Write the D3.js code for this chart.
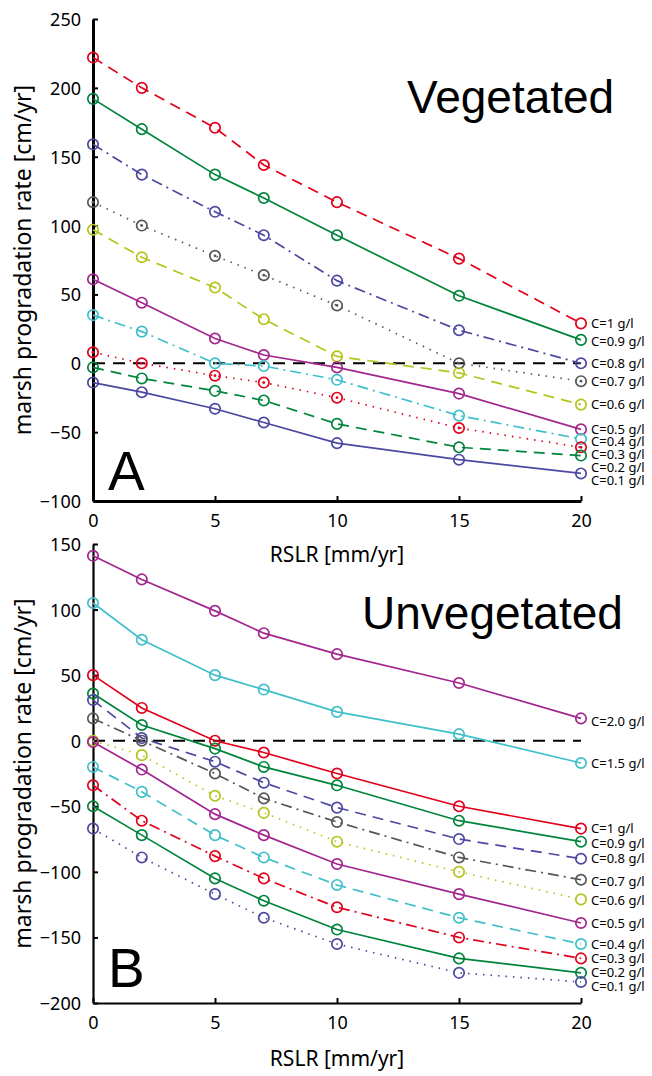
<!DOCTYPE html>
<html>
<head>
<meta charset="utf-8">
<script src="https://cdn.jsdelivr.net/npm/d3@7"></script>
<style>
  html, body { margin: 0; padding: 0; background: #fff; }
  svg { display: block; }
  .tick text { font-family: "Noto Sans", "Open Sans", sans-serif; font-size: 18px; fill: #000; }
</style>
</head>
<body>
<svg id="chart" width="652" height="1076"></svg>
<script>
// ---------- DATA ----------
const rslr = [0, 2, 5, 7, 10, 15, 20];
const xTicks = [0, 5, 10, 15, 20];
const yTicksVeg = [-100, -50, 0, 50, 100, 150, 200, 250];
const yTicksUnveg = [-200, -150, -100, -50, 0, 50, 100, 150];

// Vegetated (panel A)
const vegC10 = [222, 200, 171, 144, 117, 76, 29];
const vegC09 = [192, 170, 137, 120, 93, 49, 17];
const vegC08 = [159, 137, 110, 93, 60, 24, 0];
const vegC07 = [117, 100, 78, 64, 42, 0, -13];
const vegC06 = [97, 77, 55, 32, 5, -7, -30];
const vegC05 = [61, 44, 18, 6, -3, -22, -48];
const vegC04 = [35, 23, 0, -2, -12, -38, -55];
const vegC03 = [8, 0, -9, -14, -25, -47, -61];
const vegC02 = [-3, -11, -20, -27, -44, -61, -67];
const vegC01 = [-14, -21, -33, -43, -58, -70, -80];
const vegNames = ["C=1 g/l", "C=0.9 g/l", "C=0.8 g/l", "C=0.7 g/l", "C=0.6 g/l",
                  "C=0.5 g/l", "C=0.4 g/l", "C=0.3 g/l", "C=0.2 g/l", "C=0.1 g/l"];
const vegLabelAt = [29, 16, 0, -13, -30, -48, -57, -66, -76, -85];

// Unvegetated (panel B)
const unvC20 = [141, 123, 99, 82, 66, 44, 17];
const unvC15 = [105, 77, 50, 39, 22, 5, -17];
const unvC10 = [50, 25, 0, -9, -25, -50, -67];
const unvC09 = [36, 12, -6, -20, -34, -61, -77];
const unvC08 = [31, 2, -16, -32, -51, -75, -90];
const unvC07 = [17, 0, -25, -44, -62, -89, -106];
const unvC06 = [0, -11, -42, -55, -77, -100, -121];
const unvC05 = [-1, -22, -56, -72, -94, -117, -139];
const unvC04 = [-20, -39, -72, -89, -110, -135, -155];
const unvC03 = [-34, -61, -88, -105, -127, -150, -166];
const unvC02 = [-50, -72, -105, -122, -144, -166, -177];
const unvC01 = [-67, -89, -117, -135, -155, -177, -184];
const unvNames = ["C=2.0 g/l", "C=1.5 g/l", "C=1 g/l", "C=0.9 g/l", "C=0.8 g/l", "C=0.7 g/l",
                  "C=0.6 g/l", "C=0.5 g/l", "C=0.4 g/l", "C=0.3 g/l", "C=0.2 g/l", "C=0.1 g/l"];
const unvLabelAt = [15, -17, -67, -78, -90, -107, -122, -139, -155, -166, -177, -187];

// ---------- STYLES ----------
const RED = "#e2001a", GREEN = "#00843c", BLUE = "#4b48a0", GRAY = "#565656",
      YEL = "#b5c41b", MAG = "#a3268f", CYAN = "#3fbfca";
const DASH = { solid: null, dashed: "11,7", dashdot: "11,5,2,5", dotted: "1.5,6" };

const vegSeries = [
  { v: vegC10, c: RED,   d: "dashed" },
  { v: vegC09, c: GREEN, d: "solid" },
  { v: vegC08, c: BLUE,  d: "dashdot" },
  { v: vegC07, c: GRAY,  d: "dotted", dot: true },
  { v: vegC06, c: YEL,   d: "dashed" },
  { v: vegC05, c: MAG,   d: "solid" },
  { v: vegC04, c: CYAN,  d: "dashdot" },
  { v: vegC03, c: RED,   d: "dotted", dot: true },
  { v: vegC02, c: GREEN, d: "dashed" },
  { v: vegC01, c: BLUE,  d: "solid" }
].map((s, i) => ({ ...s, name: vegNames[i], labelAt: vegLabelAt[i] }));

const unvSeries = [
  { v: unvC20, c: MAG,   d: "solid" },
  { v: unvC15, c: CYAN,  d: "solid" },
  { v: unvC10, c: RED,   d: "solid" },
  { v: unvC09, c: GREEN, d: "solid" },
  { v: unvC08, c: BLUE,  d: "dashed" },
  { v: unvC07, c: GRAY,  d: "dashdot" },
  { v: unvC06, c: YEL,   d: "dotted" },
  { v: unvC05, c: MAG,   d: "solid" },
  { v: unvC04, c: CYAN,  d: "dashed" },
  { v: unvC03, c: RED,   d: "dashdot" },
  { v: unvC02, c: GREEN, d: "solid" },
  { v: unvC01, c: BLUE,  d: "dotted" }
].map((s, i) => ({ ...s, name: unvNames[i], labelAt: unvLabelAt[i] }));

// ---------- DRAW ----------
const svg = d3.select("#chart");

function panel(cfg) {
  const x = d3.scaleLinear().domain([0, 20]).range([93, 581]);
  const y = d3.scaleLinear().domain(cfg.yDomain).range(cfg.yRange);
  const g = svg.append("g");

  // axes
  const ax = g.append("g").attr("transform", `translate(0,${cfg.yRange[0]})`)
    .call(d3.axisBottom(x).tickValues(xTicks).tickSizeInner(-5).tickSizeOuter(0).tickPadding(10));
  const ay = g.append("g").attr("transform", `translate(93,0)`)
    .call(d3.axisLeft(y).tickValues(cfg.yTicks).tickSizeInner(-5).tickSizeOuter(0).tickPadding(12));
  [ax, ay].forEach(a => {
    a.select(".domain").attr("stroke", "#000").attr("stroke-width", cfg.axisW);
    a.selectAll(".tick line").attr("stroke", "#000").attr("stroke-width", 2);
  });
  ax.selectAll(".tick text").attr("dy", "0.9em");
  ay.selectAll(".tick text").attr("dy", "0.36em");

  // zero line
  g.append("line")
    .attr("x1", x(0)).attr("x2", x(20)).attr("y1", y(0)).attr("y2", y(0))
    .attr("stroke", "#000").attr("stroke-width", 2).attr("stroke-dasharray", "12,8");

  const line = d3.line().x((d, i) => x(rslr[i])).y(d => y(d));

  cfg.series.forEach(s => {
    g.append("path").datum(s.v)
      .attr("d", line).attr("fill", "none")
      .attr("stroke", s.c).attr("stroke-width", 1.7)
      .attr("stroke-dasharray", DASH[s.d]);
    g.selectAll(null).data(s.v).enter().append("circle")
      .attr("cx", (d, i) => x(rslr[i])).attr("cy", d => y(d)).attr("r", 5.2)
      .attr("fill", "none").attr("stroke", s.c).attr("stroke-width", 1.7);
    if (s.dot) {
      g.selectAll(null).data(s.v).enter().append("circle")
        .attr("cx", (d, i) => x(rslr[i])).attr("cy", d => y(d)).attr("r", 1.4)
        .attr("fill", s.c);
    }
    g.append("text")
      .attr("x", x(20) + 10).attr("y", y(s.labelAt)).attr("dy", "0.35em")
      .attr("font-family", "'Noto Sans', sans-serif").attr("font-size", 13)
      .attr("fill", "#000").text(s.name);
  });

  // axis titles
  g.append("text")
    .attr("x", 337).attr("y", cfg.xLabelY)
    .attr("text-anchor", "middle")
    .attr("font-family", "'Noto Sans', sans-serif").attr("font-size", 21)
    .text("RSLR [mm/yr]");
  g.append("text")
    .attr("transform", `translate(31,${(cfg.yRange[0] + cfg.yRange[1]) / 2}) rotate(-90)`)
    .attr("text-anchor", "middle")
    .attr("font-family", "'Noto Sans', sans-serif").attr("font-size", 23)
    .text("marsh progradation rate [cm/yr]");

  // titles
  g.append("text").attr("x", cfg.titleX).attr("y", cfg.titleY)
    .attr("font-family", "'Liberation Sans', Arial, sans-serif").attr("font-size", 46)
    .text(cfg.title);
  g.append("text").attr("x", 108).attr("y", cfg.letterY)
    .attr("font-family", "'Liberation Sans', Arial, sans-serif").attr("font-size", 55)
    .text(cfg.letter);
}

panel({
  yDomain: [-100, 250], yRange: [501, 19], yTicks: yTicksVeg, series: vegSeries,
  xLabelY: 562, title: "Vegetated", titleX: 407, titleY: 113, letter: "A", letterY: 490, axisW: 3
});
panel({
  yDomain: [-200, 150], yRange: [1003, 544], yTicks: yTicksUnveg, series: unvSeries,
  xLabelY: 1066, title: "Unvegetated", titleX: 362, titleY: 629, letter: "B", letterY: 987, axisW: 2.2
});
</script>
</body>
</html>
